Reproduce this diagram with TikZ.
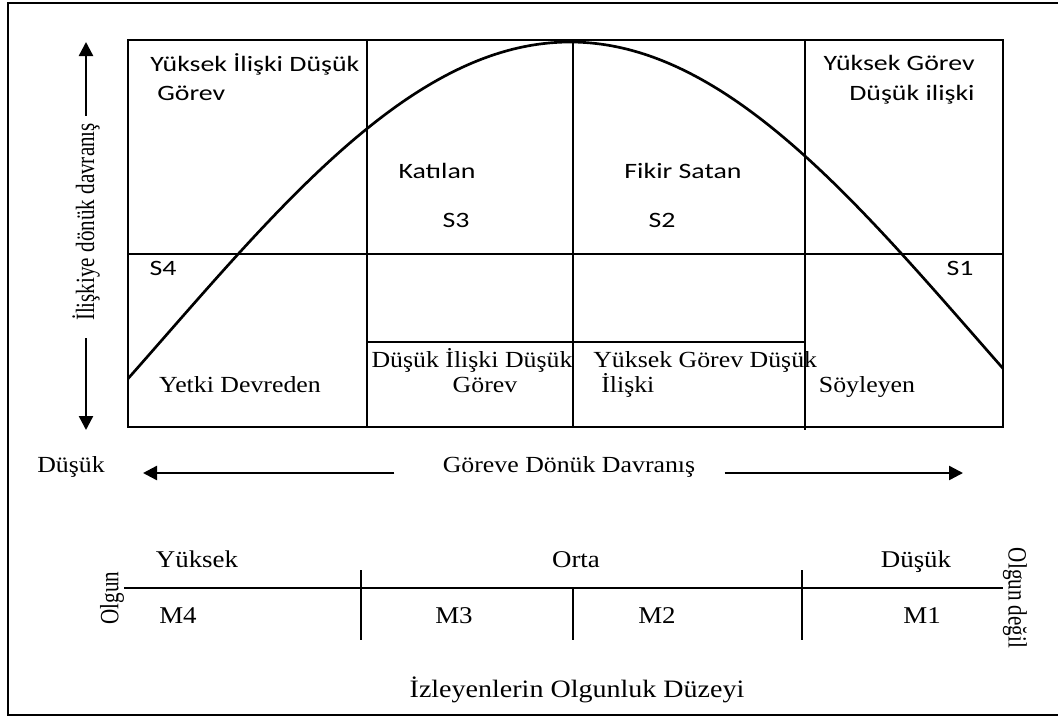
\documentclass[tikz,border=0pt]{standalone}
\usepackage{fontspec}
\setmainfont{Liberation Serif}
\newfontfamily\calibri{Carlito}
\usetikzlibrary{arrows.meta}

\begin{document}
\begin{tikzpicture}[
    serif/.style={font=\fontsize{16.4}{19}\selectfont, inner sep=0pt, xscale=1.12},
    serifbig/.style={font=\fontsize{17.1}{20}\selectfont, inner sep=0pt, xscale=1.12},
    sans/.style={font=\calibri\fontsize{15.6}{18}\selectfont, inner sep=0pt, xscale=1.27},
    sideword/.style={font=\fontsize{15}{18}\selectfont, inner sep=0pt, xscale=1.25},
    gridline/.style={line width=1.9pt},
    axarrow/.style={line width=1.7pt, -{Triangle[length=0.35cm,width=0.35cm]}}
  ]
  \useasboundingbox (0,0) rectangle (26.45,-17.95);
  % outer frame
  \draw[line width=1.4pt] (0.2,-0.075) rectangle (26.6,-17.875);
  % quadrant grid
  \draw[gridline] (3.2,-1.0) rectangle (25.075,-10.675);
  \draw[gridline] (9.175,-1.0) -- (9.175,-10.675);
  \draw[gridline] (14.325,-1.0) -- (14.325,-10.675);
  \draw[gridline] (20.125,-1.0) -- (20.125,-10.75);
  \draw[gridline] (3.2,-6.35) -- (25.075,-6.35);
  \draw[gridline] (9.175,-8.55) -- (20.125,-8.55);
  % bell curve
  \draw[gridline] plot[domain=3.2:25.075, samples=90, smooth]
    (\x, {-1.05-7.375*(1-cos(8.88*(\x-14.25)))});

  % upper quadrant labels
  \node[sans, anchor=base west] (tlA) at (3.75,-1.775) {Yüksek İlişki Düşük};
  \node[sans, anchor=base west] (tlB) at (3.925,-2.5) {Görev};
  \node[sans, anchor=base east] (trA) at (24.375,-1.75) {Yüksek Görev};
  \node[sans, anchor=base east] (trB) at (24.375,-2.5) {Düşük ilişki};
  \node[sans, anchor=base] (katilan) at (10.925,-4.45) {Katılan};
  \node[sans, anchor=base] (sThree) at (11.4,-5.675) {S3};
  \node[sans, anchor=base] (fikir) at (17.075,-4.45) {Fikir Satan};
  \node[sans, anchor=base] (sTwo) at (16.55,-5.675) {S2};
  \node[sans, anchor=base] (sFour) at (4.075,-6.875) {S4};
  \node[sans, anchor=base] (sOne) at (24.0,-6.875) {S1};

  % lower quadrant labels
  \node[serif, anchor=base] (yetki) at (6.0,-9.8) {Yetki Devreden};
  \node[serif, anchor=base] (dusA) at (11.8,-9.175) {Düşük İlişki Düşük};
  \node[serif, anchor=base] (dusB) at (12.125,-9.8) {Görev};
  \node[serif, anchor=base west] (yukA) at (14.825,-9.175) {Yüksek Görev Düşük};
  \node[serif, anchor=base west] (yukB) at (15.025,-9.8) {İlişki};
  \node[serif, anchor=base] (soyleyen) at (21.675,-9.8) {Söyleyen};

  % vertical axis
  \node[sideword, rotate=90] (relaxis) at (2.15,-5.55) {İlişkiye dönük davranış};
  \coordinate (relTop) at (2.15,-1.05);
  \coordinate (relBot) at (2.15,-10.75);
  \draw[axarrow, shorten <=0.175cm] (relaxis.east) -- (relTop);
  \draw[axarrow, shorten <=0.425cm] (relaxis.west) -- (relBot);

  % horizontal axis
  \node[serif, anchor=base] (lowTask) at (1.775,-11.8) {Düşük};
  \node[serif, anchor=base] (goreve) at (14.225,-11.8) {Göreve Dönük Davranış};
  \coordinate (taskL) at (3.575,-11.825);
  \coordinate (taskR) at (24.075,-11.825);
  \draw[axarrow, shorten <=1.2cm] (goreve.west |- taskL) -- (taskL);
  \draw[axarrow, shorten <=0.725cm] (goreve.east |- taskR) -- (taskR);

  % maturity scale
  \node[serifbig, anchor=base] (yuksek) at (4.925,-14.175) {Yüksek};
  \node[serifbig, anchor=base] (orta) at (14.4,-14.175) {Orta};
  \node[serifbig, anchor=base] (dusuk) at (22.9,-14.175) {Düşük};
  \node[serifbig, anchor=base] (mFour) at (4.45,-15.575) {M4};
  \node[serifbig, anchor=base] (mThree) at (11.35,-15.575) {M3};
  \node[serifbig, anchor=base] (mTwo) at (16.425,-15.575) {M2};
  \node[serifbig, anchor=base] (mOne) at (23.05,-15.575) {M1};
  \node[sideword, rotate=90] (olgun) at (2.8,-14.95) {Olgun};
  \node[sideword, rotate=-90] (olgundegil) at (25.375,-14.95) {Olgun değil};
  \draw[gridline] ([yshift=0.25cm]olgun.south) -- ([yshift=0.25cm]olgundegil.south);
  \draw[gridline] (9.025,-14.25) -- (9.025,-16.0);
  \draw[gridline] (14.325,-14.7) -- (14.325,-16.0);
  \draw[gridline] (20.05,-14.25) -- (20.05,-16.0);
  \node[serif, font=\fontsize{17.8}{21}\selectfont, anchor=base] (izleyen) at (14.425,-17.425)
    {İzleyenlerin Olgunluk Düzeyi};
\end{tikzpicture}
\end{document}
